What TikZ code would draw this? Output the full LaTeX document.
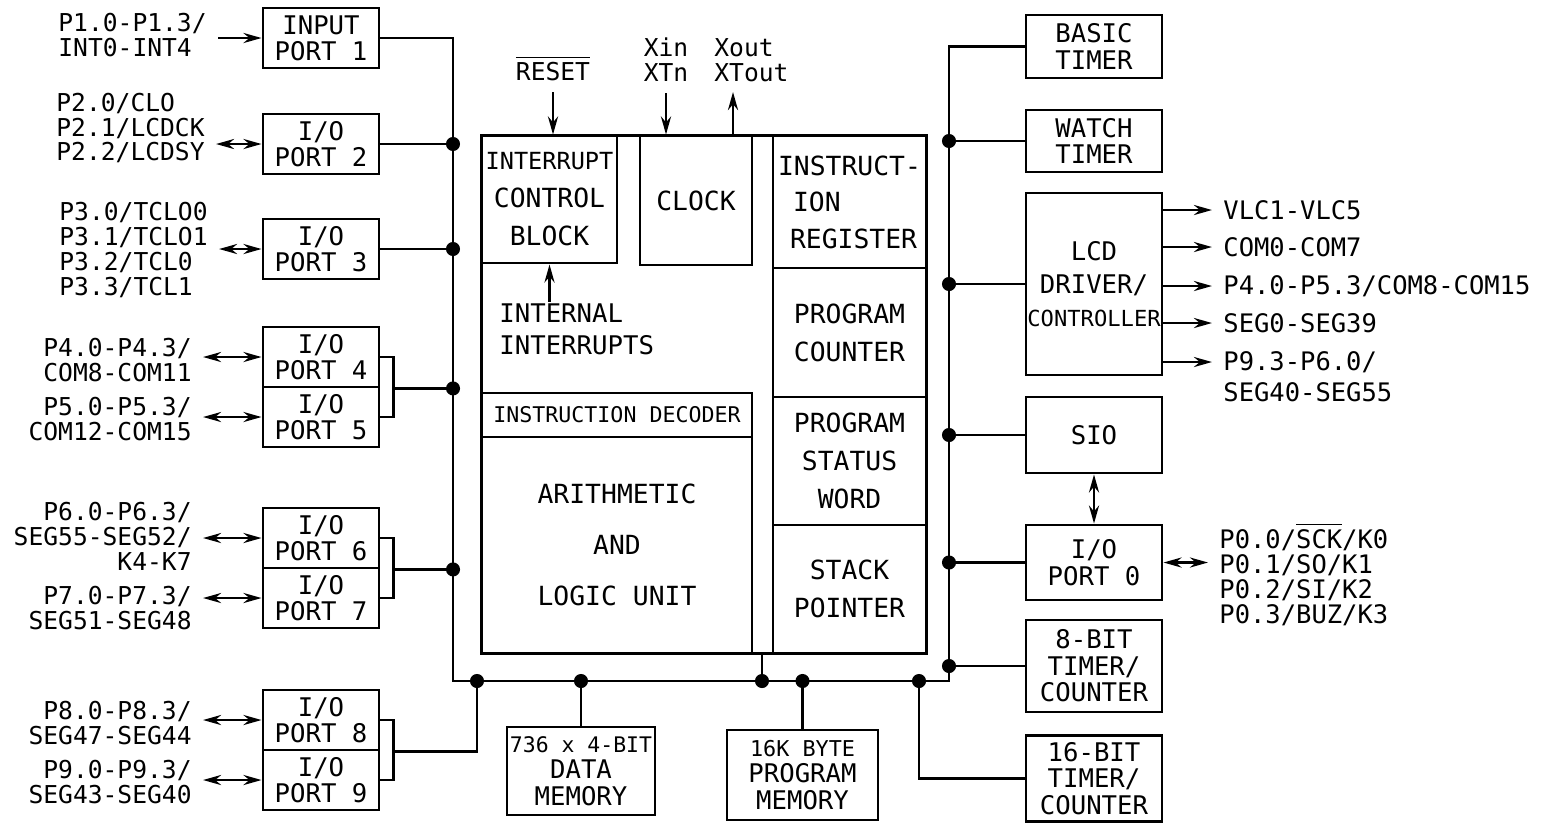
\documentclass[tikz,border=0pt]{standalone}
\usepackage{fontspec}
\setmainfont{DejaVu Sans Mono}
\usetikzlibrary{arrows.meta}
\newcommand{\ovl}[1]{\ensuremath{\overline{\mbox{#1}}}}
\tikzset{
  blk/.style={draw, thick, inner sep=0pt, align=center, font=\fontsize{7.3}{7.5}\selectfont},
  port/.style={blk, minimum width=1.16cm, minimum height=0.6cm},
  rblk/.style={blk, minimum width=1.36cm},
  cpublk/.style={draw, thick, inner sep=0pt, align=center, font=\fontsize{7.5}{10.8}\selectfont},
  lbl/.style={inner sep=0.1cm, font=\fontsize{7}{7.1}\selectfont},
  rlbl/.style={lbl, font=\fontsize{7.25}{7.1}\selectfont},
}
\begin{document}
\begin{tikzpicture}[x=0.01cm, y=-0.01cm, >={Stealth[length=1.8mm, width=1mm]}, thick]
\useasboundingbox (0,0) rectangle (1546,823);
% 左侧：端口
\node[port] (p1) at (321,38) {INPUT\\PORT 1};
\foreach \n/\y in {2/144, 3/249, 4/357, 5/417, 6/538, 7/598, 8/720, 9/780}
  \node[port] (p\n) at (321,\y) {I/O\\PORT \n};
\node[lbl, anchor=west, align=left] (l1) at (47,35) {P1.0-P1.3/\\INT0-INT4};
\node[lbl, anchor=west, align=left] (l2) at (45,128) {P2.0/CLO\\P2.1/LCDCK\\P2.2/LCDSY};
\node[lbl, anchor=west, align=left] (l3) at (48,250) {P3.0/TCLO0\\P3.1/TCLO1\\P3.2/TCL0\\P3.3/TCL1};
\node[lbl, anchor=east, align=right] (l4) at (203,360) {P4.0-P4.3/\\COM8-COM11};
\node[lbl, anchor=east, align=right] (l5) at (203,419) {P5.0-P5.3/\\COM12-COM15};
\node[lbl, anchor=east, align=right] (l6) at (203,536) {P6.0-P6.3/\\SEG55-SEG52/\\K4-K7};
\node[lbl, anchor=east, align=right] (l7) at (203,608) {P7.0-P7.3/\\SEG51-SEG48};
\node[lbl, anchor=east, align=right] (l8) at (203,723) {P8.0-P8.3/\\SEG47-SEG44};
\node[lbl, anchor=east, align=right] (l9) at (203,782) {P9.0-P9.3/\\SEG43-SEG40};
\draw[->] (l1.east |- p1.west) -- (p1.west);
\foreach \n in {2,...,9}
  \draw[<->] (l\n.east |- p\n.west) -- (p\n.west);
% 中间：CPU
\node[cpublk, minimum width=4.44cm, minimum height=5.17cm] (cpu) at (704,394.5) {};
\node[cpublk, minimum width=1.35cm, minimum height=1.27cm] (intc) at (549.5,199.5)
  {{\fontsize{6.7}{10.8}\selectfont INTERRUPT}\\CONTROL\\BLOCK};
\node[cpublk, minimum width=1.12cm, minimum height=1.29cm] (clock) at (696,200.5) {CLOCK};
\node[cpublk, minimum width=1.53cm, minimum height=1.32cm, align=left,
  font=\fontsize{7.5}{10.4}\selectfont] (ireg) at (849.5,202)
  {INSTRUCT-\\\hspace*{1.5mm}ION\\\hspace*{1.2mm}REGISTER};
\node[cpublk, minimum width=1.53cm, minimum height=1.29cm] (pc) at (849.5,332.5) {PROGRAM\\COUNTER};
\node[cpublk, minimum width=1.53cm, minimum height=1.28cm] (psw) at (849.5,461) {PROGRAM\\STATUS\\WORD};
\node[cpublk, minimum width=1.53cm, minimum height=1.28cm] (sp) at (849.5,589) {STACK\\POINTER};
\node[cpublk, minimum width=2.70cm, minimum height=0.44cm,
  font=\fontsize{6.15}{7}\selectfont] (idec) at (617,415) {INSTRUCTION DECODER};
\node[cpublk, minimum width=2.70cm, minimum height=2.16cm,
  font=\fontsize{7.5}{14.5}\selectfont] (alu) at (617,545) {ARITHMETIC\\AND\\LOGIC UNIT};
\node[anchor=west, align=left, inner sep=0pt, font=\fontsize{7.3}{9.1}\selectfont] (iint) at (498,329)
  {INTERNAL\\INTERRUPTS};
\draw[->] (iint.north -| intc.south) -- (intc.south);
\node[lbl] (rst) at (553,68) {\ovl{RESET}};
\draw[->] (rst.south) -- (rst.south |- intc.north);
\node[lbl, align=center] (xin) at (666,60) {Xin\\XTn};
\draw[->] (xin.south) -- (xin.south |- clock.north);
\node[lbl, anchor=west, align=left] (xout) at (703,60) {Xout\\XTout};
\coordinate (xo) at (733,92);
\draw[->] (clock.north -| xo) -- (xo);
% 底部：存储器
\node[blk, minimum width=1.48cm, minimum height=0.88cm] (dmem) at (581,771)
  {{\fontsize{6.1}{7.5}\selectfont 736 x 4-BIT}\\DATA\\MEMORY};
\node[blk, minimum width=1.51cm, minimum height=0.90cm] (pmem) at (802.5,775)
  {{\fontsize{6.2}{7.5}\selectfont 16K BYTE}\\PROGRAM\\MEMORY};
% 右侧：外设
\node[rblk, minimum height=0.63cm] (basic) at (1094,46.5) {BASIC\\TIMER};
\node[rblk, minimum height=0.62cm] (watch) at (1094,141) {WATCH\\TIMER};
\node[rblk, minimum height=1.82cm, font=\fontsize{7.3}{9.4}\selectfont] (lcd) at (1094,284)
  {LCD\\DRIVER/\\{\fontsize{6.3}{9.4}\selectfont CONTROLLER}};
\node[rblk, minimum height=0.76cm] (sio) at (1094,435) {SIO};
\node[rblk, minimum height=0.75cm] (port0) at (1094,562.5) {I/O\\PORT 0};
\node[rblk, minimum height=0.92cm] (t8) at (1094,666) {8-BIT\\TIMER/\\COUNTER};
\node[rblk, minimum height=0.86cm] (t16) at (1094,778.5) {16-BIT\\TIMER/\\COUNTER};
\node[rlbl, anchor=west] (o1) at (1212,210) {VLC1-VLC5};
\node[rlbl, anchor=west] (o2) at (1212,247) {COM0-COM7};
\node[rlbl, anchor=west] (o3) at (1212,286) {P4.0-P5.3/COM8-COM15};
\node[rlbl, anchor=west] (o4) at (1212,323) {SEG0-SEG39};
\node[rlbl, anchor=west] (o5) at (1212,362) {P9.3-P6.0/};
\node[rlbl, anchor=west] (o6) at (1212,392) {SEG40-SEG55};
\foreach \o in {o1,o2,o3,o4,o5}
  \draw[->] (lcd.east |- \o.west) -- (\o.west);
\node[rlbl, anchor=west, align=left] (pl) at (1208,574)
  {P0.0/\ovl{SCK}/K0\\P0.1/SO/K1\\P0.2/SI/K2\\P0.3/BUZ/K3};
\draw[<->] (port0.east) -- (port0.east -| pl.west);
\draw[<->] (sio.south) -- (port0.north);
% 总线
\coordinate (bl) at (453,681);
\coordinate (br) at (949,681);
\draw (p1.east) -| (bl) -- (br) |- (basic.west);
\foreach \n in {p2,p3} {
  \draw (\n.east) -- (\n.east -| bl);
  \fill (\n.east -| bl) circle (2pt);
}
\foreach \a/\b in {p4/p5, p6/p7, p8/p9}
  \draw (\a.east) -- ++(13,0) |- (\b.east);
\foreach \a in {p4,p6} {
  \draw ([xshift=0.13cm]\a.south east) -- (\a.south east -| bl);
  \fill (\a.south east -| bl) circle (2pt);
}
\coordinate (j89) at (477,681);
\draw ([xshift=0.13cm]p8.south east) -| (j89);
\fill (j89) circle (2pt);
\coordinate (jcpu) at (762,681);
\draw (jcpu |- cpu.south) -- (jcpu);
\fill (jcpu) circle (2pt);
\foreach \m in {dmem,pmem} {
  \draw (\m.north) -- (\m.north |- bl);
  \fill (\m.north |- bl) circle (2pt);
}
\coordinate (j16) at (919,681);
\draw (j16) |- (t16.west);
\fill (j16) circle (2pt);
\foreach \b in {watch,lcd,sio,port0,t8} {
  \draw (\b.west) -- (\b.west -| br);
  \fill (\b.west -| br) circle (2pt);
}
\end{tikzpicture}
\end{document}
